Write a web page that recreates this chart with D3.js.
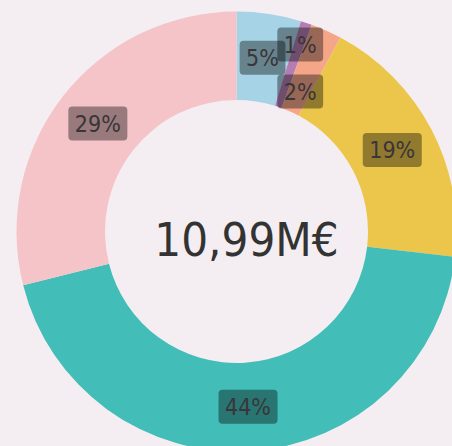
<!DOCTYPE html>
<html>
<head>
<meta charset="utf-8">
<script src="https://cdn.jsdelivr.net/npm/d3@7"></script>
<style>
  html, body { margin: 0; padding: 0; background: #f4eef2; overflow: hidden; }
  svg { display: block; }
</style>
</head>
<body>
<svg id="chart" width="452" height="446"></svg>
<script>
// Data (amounts in M€), in clockwise order from 12 o'clock
const categories = ["A", "B", "C", "D", "E", "F"];
const amounts = [0.52, 0.09, 0.25, 2.09, 4.86, 3.18];
const colors = ["#a6d3e6", "#b47db4", "#f5a689", "#ebc64b", "#42bdb7", "#f5c4c8"];

const width = 452, height = 446;
const cx = 236.5, cy = 231.5;
const outerR = 220, innerR = 131.5;

const svg = d3.select("#chart");
svg.append("rect").attr("width", width).attr("height", height).attr("fill", "#f4eef2");

const total = d3.sum(amounts);
const data = categories.map((c, i) => ({ cat: c, value: amounts[i], color: colors[i] }));

const pie = d3.pie().value(d => d.value).sort(null);
const arcs = pie(data);
const arc = d3.arc().innerRadius(innerR).outerRadius(outerR);
const labelArc = d3.arc().innerRadius((innerR + outerR) / 2).outerRadius((innerR + outerR) / 2);

const g = svg.append("g").attr("transform", `translate(${cx},${cy})`);

g.selectAll("path.slice")
  .data(arcs)
  .join("path")
  .attr("class", "slice")
  .attr("d", arc)
  .attr("fill", d => d.data.color);

// Label positions at centroids; stack consecutive small slices vertically
const labels = arcs.map(d => {
  const [x, y] = labelArc.centroid(d);
  const pct = d.data.value / total * 100;
  return { x, y, pct, text: Math.round(pct) + "%" };
});
const smallLimit = 3, spacing = 47;
let i = 0;
while (i < labels.length) {
  if (labels[i].pct < smallLimit) {
    let j = i;
    while (j + 1 < labels.length && labels[j + 1].pct < smallLimit) j++;
    if (j > i) {
      const grp = labels.slice(i, j + 1);
      const mx = d3.mean(grp, l => l.x), my = d3.mean(grp, l => l.y);
      grp.forEach((l, k) => {
        l.x = mx;
        l.y = my + (k - (grp.length - 1) / 2) * spacing;
      });
    }
    i = j + 1;
  } else i++;
}

const fontFam = "'DejaVu Sans Condensed', 'Roboto', 'DejaVu Sans', sans-serif";
const lg = g.selectAll("g.label")
  .data(labels)
  .join("g")
  .attr("class", "label")
  .attr("transform", d => `translate(${d.x},${d.y})`);

lg.each(function(d) {
  const sel = d3.select(this);
  const t = sel.append("text")
    .attr("text-anchor", "middle")
    .attr("dy", "0.36em")
    .attr("font-family", fontFam)
    .attr("font-size", 23)
    .attr("fill", "#3a3538")
    .text(d.text);
  const w = t.node().getComputedTextLength();
  const bw = w + 13, bh = 34;
  sel.insert("rect", "text")
    .attr("x", -bw / 2).attr("y", -bh / 2)
    .attr("width", bw).attr("height", bh)
    .attr("rx", 4).attr("ry", 4)
    .attr("fill", "rgba(0,0,0,0.38)");
});

// Center total
const fmt = v => d3.format(".2f")(v).replace(".", ",") + "M€";
g.append("text")
  .attr("x", 10)
  .attr("y", 24.5)
  .attr("text-anchor", "middle")
  .attr("font-family", fontFam)
  .attr("font-size", 47)
  .attr("fill", "#333333")
  .text(fmt(total));
</script>
</body>
</html>
